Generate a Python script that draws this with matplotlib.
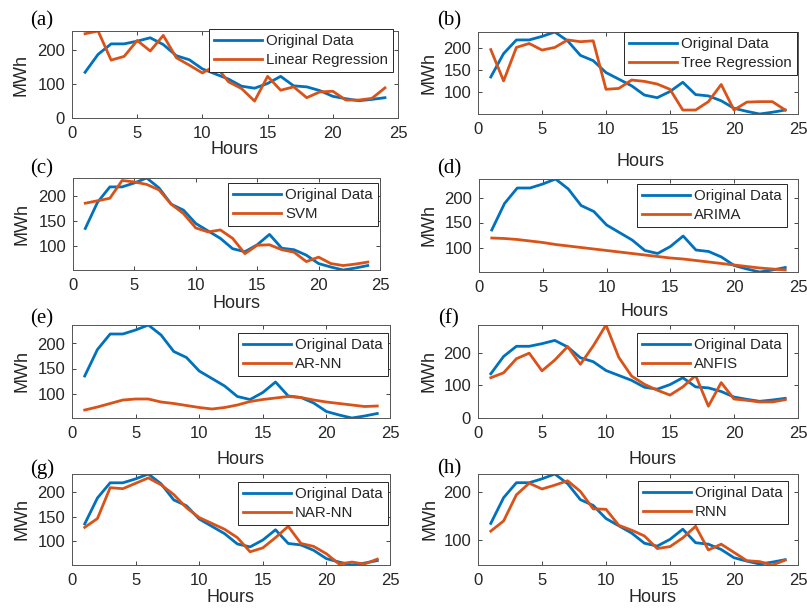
import matplotlib
matplotlib.use("Agg")
import matplotlib.pyplot as plt
import numpy as np

hours = list(range(1, 25))
original = [135, 188, 219, 219, 227, 237, 217, 184, 172, 145, 130, 115, 94, 88, 102, 123,
            95, 92, 81, 64, 57, 51, 55, 60]

linear_reg = [249, 257, 171, 182, 229, 198, 244, 178, 156, 133, 155, 107, 87, 50, 123, 82,
              92, 60, 77, 79, 53, 53, 58, 89]
tree_reg = [197, 126, 202, 211, 196, 202, 219, 215, 217, 107, 109, 128, 125, 119, 107, 60,
            60, 79, 118, 60, 78, 79, 79, 60]
svm = [186, 191, 196, 232, 229, 224, 213, 184, 165, 136, 128, 132, 115, 84, 101, 102,
       92, 87, 68, 77, 64, 60, 63, 67]
arima = [119, 118, 116, 113, 110, 106, 103, 100, 97, 94, 91, 88, 85, 82, 79, 77,
         74, 71, 68, 65, 62, 59, 57, 55]
ar_nn = [67, 73, 80, 87, 89, 89, 83, 80, 76, 72, 69, 72, 77, 84, 88, 91,
         94, 92, 87, 83, 80, 77, 74, 75]
anfis = [123, 138, 181, 198, 144, 177, 218, 164, 220, 284, 185, 128, 103, 85, 70, 95,
         130, 36, 108, 58, 54, 49, 49, 56]
nar_nn = [128, 146, 209, 207, 218, 229, 215, 195, 168, 148, 136, 124, 107, 78, 86, 107,
          130, 95, 89, 74, 53, 57, 53, 63]
rnn = [119, 140, 194, 218, 206, 214, 223, 201, 165, 164, 131, 121, 109, 83, 87, 105,
       129, 80, 92, 75, 58, 56, 49, 59]

panel_letters = ["(a)", "(b)", "(c)", "(d)", "(e)", "(f)", "(g)", "(h)"]
model_names = ["Linear Regression", "Tree Regression", "SVM", "ARIMA", "AR-NN", "ANFIS",
               "NAR-NN", "RNN"]
model_series = [linear_reg, tree_reg, svm, arima, ar_nn, anfis, nar_nn, rnn]
y_ticks = [[0, 100, 200], [100, 150, 200], [100, 150, 200], [100, 150, 200],
           [100, 150, 200], [0, 100, 200], [100, 150, 200], [100, 200]]
y_from_zero = [True, False, False, False, False, True, False, False]
x_ticks = [0, 5, 10, 15, 20, 25]

W, H = 807, 609
# layout in pixels: left, right, top, bottom
boxes = [(72, 398, 31, 118), (478, 798, 32, 114),
         (73, 380, 178, 270), (479, 798, 179, 272),
         (72, 390, 325, 418), (478, 798, 325, 418),
         (72, 390, 474, 565), (478, 798, 474, 565)]
legend_rt = [(393, 29), (797, 32), (378, 183), (787, 184),
             (388, 333), (787, 333), (388, 482), (788, 481)]
xlabel_c = [(234, 149), (640, 161), (237, 303), (644, 311),
            (240, 459), (652, 459), (231, 598), (652, 598)]
ylabel_x = [21, 429, 22, 429, 22, 429, 22, 430]
letter_c = [(42, 21), (449, 21), (42, 169), (449, 169),
            (42, 319), (448, 319), (42, 469), (449, 469)]

BLUE = "#0072BD"
ORANGE = "#D95319"
DARK = "#262626"

plt.rcParams["font.family"] = ["Liberation Sans", "DejaVu Sans"]

fig = plt.figure(figsize=(W / 100, H / 100), dpi=100)

for i in range(8):
    l, r, t, b = boxes[i]
    ax = fig.add_axes([l / W, 1 - b / H, (r - l) / W, (b - t) / H])
    ax.plot(hours, original, color=BLUE, lw=2.0, label="Original Data")
    ax.plot(hours, model_series[i], color=ORANGE, lw=2.0, label=model_names[i])
    ax.set_xlim(0, 25)
    allv = original + model_series[i]
    lo = 0 if y_from_zero[i] else min(allv)
    ax.set_ylim(lo, max(allv))
    ax.set_xticks(x_ticks)
    ax.set_yticks(y_ticks[i])
    ax.tick_params(direction="in", length=3, width=0.6, colors=DARK, labelsize=12,
                   top=True, right=True, pad=5)
    ax.tick_params(axis="x", pad=6)
    for s in ax.spines.values():
        s.set_color("#555555")
        s.set_linewidth(0.7)
    ax.set_xlabel("Hours", fontsize=13, color=DARK, ha="center", va="center")
    ax.xaxis.set_label_coords((xlabel_c[i][0] - l) / (r - l), (b - xlabel_c[i][1]) / (b - t))
    ax.set_ylabel("MWh", fontsize=13, color=DARK, ha="center", va="center")
    ax.yaxis.set_label_coords((ylabel_x[i] - l) / (r - l), 0.5)
    lx, ly = legend_rt[i]
    leg = ax.legend(loc="upper right", bbox_to_anchor=(lx / W, 1 - ly / H),
                    bbox_transform=fig.transFigure, borderaxespad=0, fontsize=10.8,
                    fancybox=False, framealpha=1, edgecolor=DARK, handlelength=3.2,
                    handletextpad=0.25, borderpad=0.35, labelspacing=0.3)
    leg.get_frame().set_linewidth(0.7)
    for txt in leg.get_texts():
        txt.set_color(DARK)
    fig.text(letter_c[i][0] / W, 1 - letter_c[i][1] / H, panel_letters[i],
             family=["Liberation Serif", "DejaVu Serif"], fontsize=15,
             ha="center", va="center", color="black")

fig.savefig("out.png", dpi=100)
